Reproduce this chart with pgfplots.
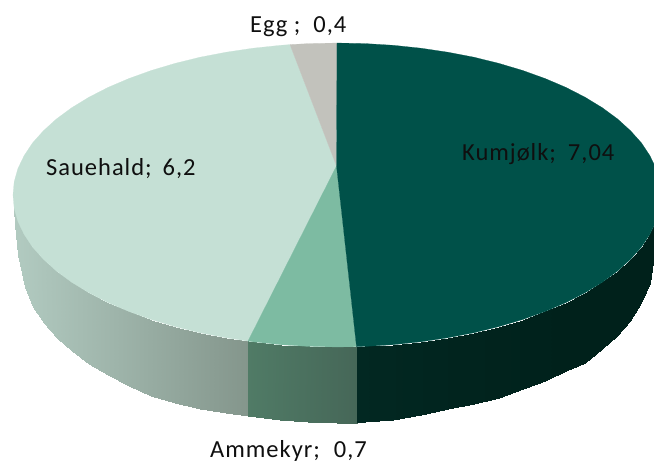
\documentclass[border=0pt]{standalone}
\usepackage{pgfplots}
\usepackage{fontspec}
\pgfplotsset{compat=1.18}
\setmainfont[LetterSpace=4]{Carlito}
\definecolor{kum}{RGB}{0,81,73}
\definecolor{amm}{RGB}{125,187,162}
\definecolor{sau}{RGB}{197,224,213}
\definecolor{egg}{RGB}{194,194,188}
\definecolor{txt}{RGB}{15,15,15}
\pgfplotsset{
  colormap={wsau}{rgb255=(178,203,193) rgb255=(132,150,140)},
  colormap={wamm}{rgb255=(80,123,102) rgb255=(70,103,88)},
  colormap={wkum}{rgb255=(2,40,34) rgb255=(0,33,27)},
}
\begin{document}
\begin{tikzpicture}
\path[use as bounding box] (0,0) rectangle (654pt,463pt);
\begin{axis}[
  at={(0,0)}, anchor=south west,
  width=654pt, height=463pt, scale only axis,
  xmin=0, xmax=654, ymin=0, ymax=463, y dir=reverse,
  hide axis, clip=true,
  point meta min=0, point meta max=1,
]
% side walls
\addplot[surf, shader=interp, colormap name=wsau, mesh/rows=2, point meta=explicit]
 table[meta=m] {
x y m
13.6 204 0
14.2 208.3 0.01
17.9 221.4 0.02
24.1 234.3 0.05
32.5 247 0.08
43.4 259.2 0.13
56.4 271 0.18
71.6 282.2 0.25
88.8 292.7 0.32
107.9 302.5 0.40
128.7 311.4 0.49
151.2 319.5 0.59
175 326.6 0.69
200.1 332.8 0.80
226.2 337.8 0.91
248 341.1 1
13.6 204 0
15 225 0.01
18.5 255 0.02
25 287 0.05
33 307 0.08
44 323 0.13
57 338 0.18
72 351 0.25
89 364 0.32
108 375 0.40
129 386 0.49
151 396 0.59
175 403 0.69
200 409 0.80
226 413 0.91
248 416 1
};
\addplot[surf, shader=interp, colormap name=wamm, mesh/rows=2, point meta=explicit]
 table[meta=m] {
x y m
248 341.1 0
280.7 344.7 0.3
308.7 346.4 0.56
337 347 0.82
356.5 346.7 1
248 416 0
280 419.5 0.3
308 421.5 0.56
337 423 0.82
357 422.5 1
};
\addplot[surf, shader=interp, colormap name=wkum, mesh/rows=2, point meta=explicit]
 table[meta=m] {
x y m
356.5 346.7 0
365.3 346.4 0.05
393.3 344.7 0.2
420.9 341.8 0.35
447.8 337.8 0.5
473.9 332.8 0.6
499 326.6 0.7
522.8 319.5 0.8
545.3 311.4 0.9
566.1 302.5 1
585.2 292.7 1
602.4 282.2 1
617.6 271 1
630.6 259.2 1
641.5 247 1
649.9 234.3 1
656.1 221.4 1
357 422.5 0
365 422 0.05
393 419.5 0.2
421 415 0.35
448 409 0.5
474 404 0.6
499 398 0.7
523 389 0.8
545 381 0.9
566 371 1
585 363 1
602 349 1
617 336 1
630 321 1
641 303 1
650 283 1
656 240 1
};
% top faces
\addplot[fill=sau, draw=sau, line width=0.2pt] coordinates {
(336.5,166) (248,341.1) (226.2,337.8) (200.1,332.8) (175,326.6) (151.2,319.5) (128.7,311.4)
(107.9,302.5) (88.8,292.7) (71.6,282.2) (56.4,271) (43.4,259.2) (32.5,247) (24.1,234.3)
(17.9,221.4) (14.2,208.3) (13,195) (14.2,181.7) (17.9,168.6) (24.1,155.7) (32.5,143)
(43.4,130.8) (56.4,119) (71.6,107.8) (88.8,97.3) (107.9,87.5) (128.7,78.6) (151.2,70.5)
(175,63.4) (200.1,57.2) (226.2,52.2) (253.1,48.2) (280.7,45.3) (290,44.6)
} -- cycle;
\addplot[fill=egg, draw=egg, line width=0.2pt] coordinates {
(336.5,166) (290,44.6) (308.7,43.6) (337,43)
} -- cycle;
\addplot[fill=amm, draw=amm, line width=0.2pt] coordinates {
(336.5,166) (356.5,346.7) (337,347) (308.7,346.4) (280.7,344.7) (253.1,341.8) (248,341.1)
} -- cycle;
\addplot[fill=kum, draw=kum, line width=0.2pt] coordinates {
(336.5,166) (337,43) (365.3,43.6) (393.3,45.3) (420.9,48.2) (447.8,52.2) (473.9,57.2)
(499,63.4) (522.8,70.5) (545.3,78.6) (566.1,87.5) (585.2,97.3) (602.4,107.8) (617.6,119)
(630.6,130.8) (641.5,143) (649.9,155.7) (656.1,168.6) (659.8,181.7) (661,195) (659.8,208.3)
(656.1,221.4) (649.9,234.3) (641.5,247) (630.6,259.2) (617.6,271) (602.4,282.2) (585.2,292.7)
(566.1,302.5) (545.3,311.4) (522.8,319.5) (499,326.6) (473.9,332.8) (447.8,337.8)
(420.9,341.8) (393.3,344.7) (365.3,346.4) (356.5,346.7)
} -- cycle;
% labels
\node[anchor=base west, inner sep=0pt, text=txt, font=\fontsize{24.5}{27}\selectfont] at (axis cs:46,175) {Sauehald;\hspace{11pt}6,2};
\node[anchor=base west, inner sep=0pt, text=txt, font=\fontsize{24.5}{27}\selectfont] at (axis cs:462,160.5) {Kumjølk;\hspace{12pt}7,04};
\node[anchor=base west, inner sep=0pt, text=txt, font=\fontsize{24.5}{27}\selectfont] at (axis cs:210,457) {Ammekyr;\hspace{14pt}0,7};
\node[anchor=base west, inner sep=0pt, text=txt, font=\fontsize{24.5}{27}\selectfont] at (axis cs:250,32.5) {Egg ;\hspace{13pt}0,4};
\end{axis}
\end{tikzpicture}
\end{document}
